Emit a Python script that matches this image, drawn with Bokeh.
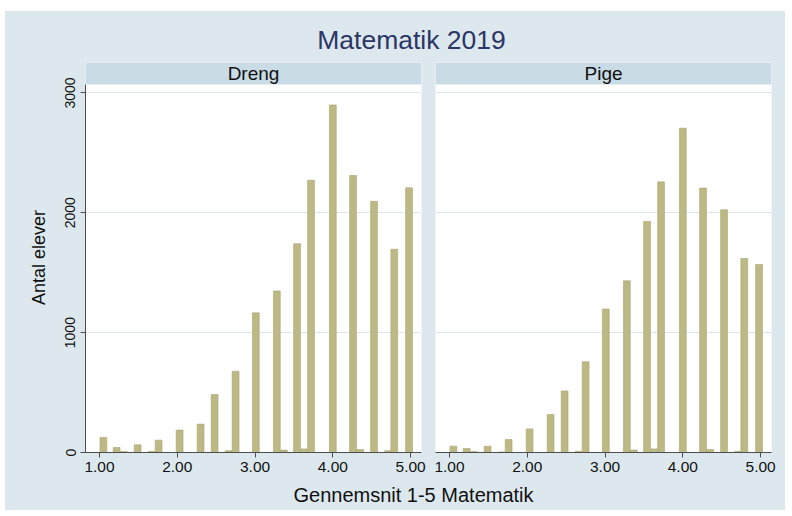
from bokeh.plotting import figure
from bokeh.layouts import column, row
from bokeh.models import (Range1d, FixedTicker, BoxAnnotation, Label, Grid,
                          ColumnDataSource)
from bokeh.embed import file_html
from bokeh.resources import INLINE

# ---------------- data ----------------
title_text = "Matematik 2019"
panel_names = ["Dreng", "Pige"]
x_title = "Gennemsnit 1-5 Matematik"
y_title = "Antal elever"

bin_centers = [1.05, 1.22, 1.31, 1.49, 1.67, 1.76, 2.03, 2.30, 2.48, 2.66, 2.75, 3.01,
               3.28, 3.37, 3.54, 3.63, 3.72, 4.00, 4.26, 4.35, 4.53, 4.71, 4.79, 4.98]
dreng = [125, 42, 8, 64, 8, 103, 187, 237, 483, 15, 678, 1165,
         1348, 20, 1742, 30, 2272, 2900, 2311, 25, 2096, 15, 1696, 2208]
pige = [53, 33, 8, 52, 5, 108, 197, 317, 514, 10, 758, 1197,
        1433, 20, 1928, 30, 2258, 2706, 2206, 25, 2025, 10, 1619, 1569]

x_ticks = [1, 2, 3, 4, 5]
x_tick_labels = ["1.00", "2.00", "3.00", "4.00", "5.00"]
y_ticks = [0, 1000, 2000, 3000]
y_tick_labels = ["0", "1000", "2000", "3000"]

# ---------------- style ----------------
BG = "#dde8ee"
STRIP = "#c9dbe5"
GRID = "#dde8ee"
BAR = "#bdb985"
BAR_EDGE = "#a9a573"
AXIS = "#4d4d4d"
TITLE_COLOR = "#2b3566"
FONT = "Liberation Sans"

X_LO, X_HI = 0.82, 5.14
Y_TOP = 3254
STRIP_BOTTOM = 3071
BIN_W = 0.088
TOTAL_W = 780


def make_panel(name, values, width, left, right, show_y):
    src = ColumnDataSource(dict(x=bin_centers, n=values))
    kw = dict(width=width, height=420, x_range=Range1d(X_LO, X_HI),
              y_range=Range1d(0, Y_TOP), output_backend="svg",
              toolbar_location=None, min_border_left=left,
              min_border_right=right, min_border_top=0, min_border_bottom=30)
    if not show_y:
        kw["y_axis_location"] = None
    p = figure(**kw)
    p.background_fill_color = "white"
    p.border_fill_color = BG
    p.outline_line_color = None
    p.styles = {"background-color": BG}

    p.vbar(x="x", top="n", bottom=0, width=BIN_W, source=src,
           fill_color=BAR, line_color=BAR_EDGE, line_width=0.6)

    # x axis
    xa = p.xaxis[0]
    xa.ticker = FixedTicker(ticks=x_ticks)
    xa.major_label_overrides = {t: l for t, l in zip(x_ticks, x_tick_labels)}
    xa.axis_line_color = AXIS
    xa.major_tick_line_color = AXIS
    xa.major_tick_in = 0
    xa.major_tick_out = 5
    xa.minor_tick_line_color = None
    xa.major_label_standoff = 4
    xa.major_label_text_font = FONT
    xa.major_label_text_font_size = "15.5px"
    xa.major_label_text_color = "#111111"
    p.xgrid.visible = False

    if show_y:
        ya = p.yaxis[0]
        ya.ticker = FixedTicker(ticks=y_ticks)
        ya.major_label_overrides = {t: l for t, l in zip(y_ticks, y_tick_labels)}
        ya.bounds = (0, STRIP_BOTTOM)
        ya.axis_line_color = AXIS
        ya.major_tick_line_color = AXIS
        ya.major_tick_in = 0
        ya.major_tick_out = 5
        ya.minor_tick_line_color = None
        ya.major_label_orientation = "vertical"
        ya.major_label_standoff = 5
        ya.major_label_text_font = FONT
        ya.major_label_text_font_size = "14px"
        ya.major_label_text_color = "#111111"
        ya.axis_label = y_title
        ya.axis_label_standoff = 14
        ya.axis_label_text_font = FONT
        ya.axis_label_text_font_size = "18px"
        ya.axis_label_text_font_style = "normal"
        ya.axis_label_text_color = "#111111"

    if len(p.ygrid) > 0:
        p.ygrid.ticker = FixedTicker(ticks=y_ticks)
        p.ygrid.grid_line_color = GRID
        p.ygrid.grid_line_width = 1.2
    else:
        p.add_layout(Grid(dimension=1, ticker=FixedTicker(ticks=y_ticks),
                          grid_line_color=GRID, grid_line_width=1.2))

    strip = BoxAnnotation(bottom=STRIP_BOTTOM, fill_color=STRIP, fill_alpha=1.0,
                          line_color=None)
    p.add_layout(strip)
    lab = Label(x=(X_LO + X_HI) / 2, y=(STRIP_BOTTOM + Y_TOP) / 2, text=name,
                text_align="center", text_baseline="middle",
                text_font=FONT, text_font_size="19px", text_color="#111111")
    p.add_layout(lab)
    return p


p1 = make_panel(panel_names[0], dreng, 423, 80, 7, True)
p2 = make_panel(panel_names[1], pige, 357, 7, 14, False)


def text_fig(h, text, x, y, size, color):
    f = figure(width=TOTAL_W, height=h, x_range=Range1d(0, TOTAL_W), y_range=Range1d(0, h),
               x_axis_location=None, y_axis_location=None, min_border=0,
               output_backend="svg", toolbar_location=None)
    f.background_fill_color = BG
    f.border_fill_color = BG
    f.outline_line_color = None
    f.styles = {"background-color": BG}
    f.grid.visible = False
    f.add_layout(Label(x=x, y=y, text=text, text_align="center",
                       text_baseline="middle", text_font=FONT,
                       text_font_size=size, text_color=color))
    return f


title_fig = text_fig(51, title_text, 406, 22.5, "26.5px", TITLE_COLOR)
xlab_fig = text_fig(28, x_title, 408, 16, "20px", "#111111")

panels = row(p1, p2, spacing=0, styles={"background-color": BG})
layout = column(title_fig, panels, xlab_fig, spacing=0,
                margin=(11, 7, 6, 5), styles={"background-color": BG})

open("out.html", "w").write(file_html(layout, INLINE))
